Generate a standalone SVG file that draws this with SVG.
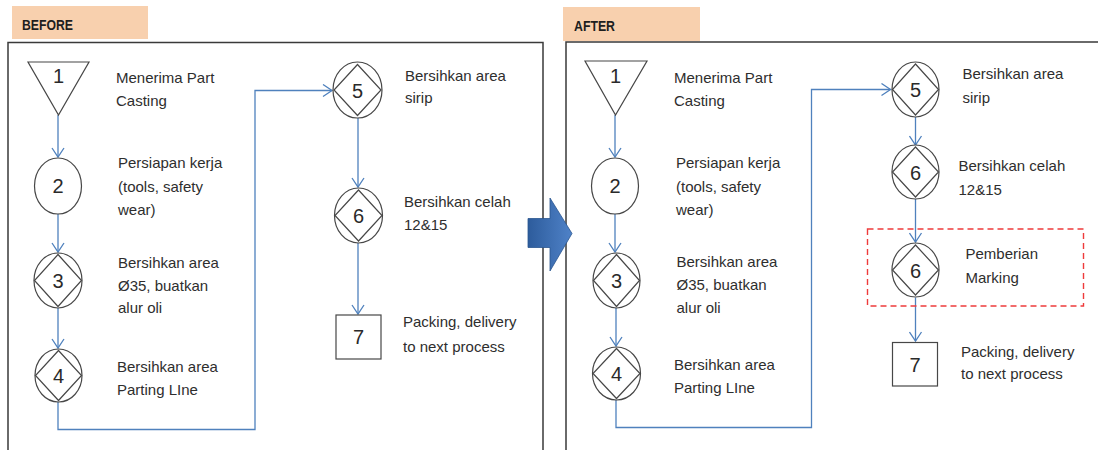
<svg xmlns="http://www.w3.org/2000/svg" width="1098" height="450" viewBox="0 0 1098 450">
  <defs>
    <style>
      .frame { fill: none; stroke: #3a3a3a; stroke-width: 1.5; }
      .tag { fill: #f8d0ae; }
      .tagtext { font-family: "Liberation Sans", Arial, sans-serif; font-weight: bold; font-size: 15px; fill: #1e1e1e; }
      .node { fill: #ffffff; stroke: #474747; stroke-width: 1.2; }
      .num { font-family: "Liberation Sans", Arial, sans-serif; font-size: 20px; fill: #2a2a2a; text-anchor: middle; }
      .lbl { font-family: "Liberation Sans", Arial, sans-serif; font-size: 15px; fill: #2e2e2e; }
      .link { fill: none; stroke: #4f81bd; stroke-width: 1.3; }
      .mark { fill: none; stroke: #ee3b3b; stroke-width: 1.4; stroke-dasharray: 6 4; }
    </style>
    <marker id="open" markerUnits="userSpaceOnUse" markerWidth="12" markerHeight="14" viewBox="0 0 12 14" refX="10" refY="7" orient="auto">
      <path d="M1,1 L10,7 L1,13" fill="none" stroke="#4f81bd" stroke-width="1.3"/>
    </marker>
    <linearGradient id="blueArrow" x1="0" y1="0" x2="1" y2="0">
      <stop offset="0" stop-color="#2d5c9c"/>
      <stop offset="1" stop-color="#4f82c8"/>
    </linearGradient>
  </defs>

  <rect width="1098" height="450" fill="#ffffff"/>

  <!-- panel frames and headers -->
  <g id="before-panel">
    <rect class="tag" x="12" y="6" width="136" height="33"/>
    <text class="tagtext" x="22" y="29.5" textLength="51" lengthAdjust="spacingAndGlyphs">BEFORE</text>
    <path class="frame" d="M8,450 V42.5 H543 V450"/>
  </g>
  <g id="after-panel">
    <path class="frame" d="M566,450 V42 H1098"/>
    <rect class="tag" x="563" y="7" width="137" height="34"/>
    <text class="tagtext" x="574" y="30.5" textLength="41" lengthAdjust="spacingAndGlyphs">AFTER</text>
  </g>

  <!-- connectors -->
  <g id="connectors">
    <!-- before -->
    <path class="link" d="M58,115 V157" marker-end="url(#open)"/>
    <path class="link" d="M58,214 V252" marker-end="url(#open)"/>
    <path class="link" d="M58,308 V348" marker-end="url(#open)"/>
    <path class="link" d="M58,402 V429.5 H255 V90.5 H332" marker-end="url(#open)"/>
    <path class="link" d="M358,118 V187" marker-end="url(#open)"/>
    <path class="link" d="M358,243 V314" marker-end="url(#open)"/>
    <!-- after -->
    <path class="link" d="M615,115 V157" marker-end="url(#open)"/>
    <path class="link" d="M615,214 V252" marker-end="url(#open)"/>
    <path class="link" d="M616,308 V346" marker-end="url(#open)"/>
    <path class="link" d="M616,400 V427.5 H811.5 V89.5 H890.5" marker-end="url(#open)"/>
    <path class="link" d="M915.5,117 V145" marker-end="url(#open)"/>
    <path class="link" d="M915.5,199 V242" marker-end="url(#open)"/>
    <path class="link" d="M915.5,297.5 V341" marker-end="url(#open)"/>
  </g>

  <!-- BEFORE nodes -->
  <g id="b1">
    <polygon class="node" points="28,62 89,62 58.5,115"/>
    <text class="num" x="58.5" y="83">1</text>
    <text class="lbl" x="116" y="83">Menerima Part</text>
    <text class="lbl" x="116" y="106">Casting</text>
  </g>
  <g id="b2">
    <ellipse class="node" cx="58" cy="186" rx="23.5" ry="28"/>
    <text class="num" x="58" y="193">2</text>
    <text class="lbl" x="118" y="168">Persiapan kerja</text>
    <text class="lbl" x="118" y="192">(tools, safety</text>
    <text class="lbl" x="118" y="215">wear)</text>
  </g>
  <g id="b3">
    <ellipse class="node" cx="58" cy="280.5" rx="24" ry="27.5"/>
    <polygon class="node" points="58,254.5 81.5,280.5 58,306.5 34.5,280.5"/>
    <text class="num" x="58" y="287.5">3</text>
    <text class="lbl" x="118" y="268">Bersihkan area</text>
    <text class="lbl" x="118" y="291">Ø35, buatkan</text>
    <text class="lbl" x="118" y="313">alur oli</text>
  </g>
  <g id="b4">
    <ellipse class="node" cx="58.5" cy="375.5" rx="23.5" ry="26.5"/>
    <polygon class="node" points="58.5,350.5 81.5,375.5 58.5,400.5 35.5,375.5"/>
    <text class="num" x="58.5" y="382.5">4</text>
    <text class="lbl" x="117" y="371.5">Bersihkan area</text>
    <text class="lbl" x="117" y="395">Parting LIne</text>
  </g>
  <g id="b5">
    <ellipse class="node" cx="357.5" cy="90" rx="24.5" ry="28"/>
    <polygon class="node" points="357.5,64.5 381,90 357.5,115.5 334,90"/>
    <text class="num" x="357.5" y="98">5</text>
    <text class="lbl" x="405" y="81">Bersihkan area</text>
    <text class="lbl" x="405" y="103">sirip</text>
  </g>
  <g id="b6">
    <ellipse class="node" cx="358.5" cy="215.5" rx="24" ry="27.5"/>
    <polygon class="node" points="358.5,190 382,215.5 358.5,241 335,215.5"/>
    <text class="num" x="358.5" y="223">6</text>
    <text class="lbl" x="404" y="207">Bersihkan celah</text>
    <text class="lbl" x="404" y="230">12&amp;15</text>
  </g>
  <g id="b7">
    <rect class="node" x="336" y="315" width="45" height="44"/>
    <text class="num" x="358.5" y="344">7</text>
    <text class="lbl" x="403" y="327">Packing, delivery</text>
    <text class="lbl" x="403" y="352">to next process</text>
  </g>

  <!-- AFTER nodes -->
  <g id="a1">
    <polygon class="node" points="585,61 647,61 615.5,115"/>
    <text class="num" x="615.5" y="83">1</text>
    <text class="lbl" x="674" y="83">Menerima Part</text>
    <text class="lbl" x="674" y="106">Casting</text>
  </g>
  <g id="a2">
    <ellipse class="node" cx="615" cy="186" rx="23.5" ry="28"/>
    <text class="num" x="615" y="193">2</text>
    <text class="lbl" x="676" y="168">Persiapan kerja</text>
    <text class="lbl" x="676" y="192">(tools, safety</text>
    <text class="lbl" x="676" y="215">wear)</text>
  </g>
  <g id="a3">
    <ellipse class="node" cx="616.5" cy="280.5" rx="23.5" ry="27.5"/>
    <polygon class="node" points="616.5,254.5 639.5,280.5 616.5,306.5 593.5,280.5"/>
    <text class="num" x="616.5" y="287.5">3</text>
    <text class="lbl" x="676.5" y="267">Bersihkan area</text>
    <text class="lbl" x="676.5" y="290">Ø35, buatkan</text>
    <text class="lbl" x="676.5" y="313">alur oli</text>
  </g>
  <g id="a4">
    <ellipse class="node" cx="616.5" cy="373.5" rx="24" ry="26.5"/>
    <polygon class="node" points="616.5,348.5 640,373.5 616.5,398.5 593,373.5"/>
    <text class="num" x="616.5" y="380.5">4</text>
    <text class="lbl" x="674" y="370">Bersihkan area</text>
    <text class="lbl" x="674" y="393">Parting LIne</text>
  </g>
  <g id="a5">
    <ellipse class="node" cx="915.5" cy="89.5" rx="23.5" ry="27.5"/>
    <polygon class="node" points="915.5,64 938.5,89.5 915.5,115 892.5,89.5"/>
    <text class="num" x="915.5" y="97">5</text>
    <text class="lbl" x="962.5" y="79">Bersihkan area</text>
    <text class="lbl" x="962.5" y="103">sirip</text>
  </g>
  <g id="a6">
    <ellipse class="node" cx="915.5" cy="172" rx="23.5" ry="27"/>
    <polygon class="node" points="915.5,147 938.5,172 915.5,197 892.5,172"/>
    <text class="num" x="915.5" y="179.5">6</text>
    <text class="lbl" x="958.5" y="171">Bersihkan celah</text>
    <text class="lbl" x="958.5" y="195">12&amp;15</text>
  </g>
  <g id="a6-marking">
    <rect class="mark" x="867.5" y="229" width="216" height="77"/>
    <ellipse class="node" cx="915.5" cy="270" rx="23.5" ry="27"/>
    <polygon class="node" points="915.5,245 938.5,270 915.5,295 892.5,270"/>
    <text class="num" x="915.5" y="277.5">6</text>
    <text class="lbl" x="965.5" y="259">Pemberian</text>
    <text class="lbl" x="965.5" y="283">Marking</text>
  </g>
  <g id="a7">
    <rect class="node" x="892.5" y="342.5" width="45" height="43.5"/>
    <text class="num" x="915" y="372">7</text>
    <text class="lbl" x="961" y="357">Packing, delivery</text>
    <text class="lbl" x="961" y="379">to next process</text>
  </g>

  <!-- block arrow between the two panels -->
  <g id="transition">
    <polygon points="528,218.5 550,218.5 550,198 572,233.5 550,271 550,247.5 528,247.5" fill="url(#blueArrow)" stroke="#2a568f" stroke-width="0.8"/>
  </g>
</svg>
